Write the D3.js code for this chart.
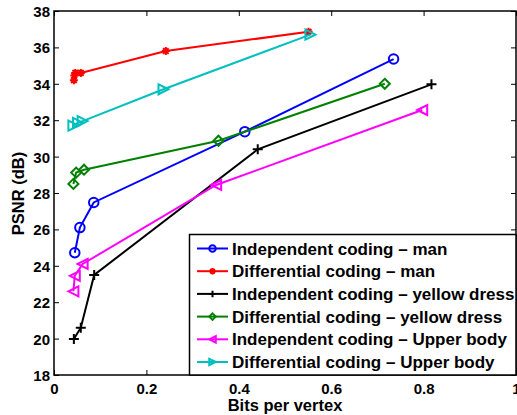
<!DOCTYPE html>
<html><head><meta charset="utf-8">
<script src="https://cdn.jsdelivr.net/npm/d3@7"></script>
<style>body{margin:0;background:#fff}svg{display:block}text{font-family:"Liberation Sans",Arial,sans-serif;font-weight:bold}</style>
</head><body><svg id="c" width="517" height="415"></svg>
<script>
const seriesNames = ["Independent coding \u2013 man","Differential coding \u2013 man","Independent coding \u2013 yellow dress","Differential coding \u2013 yellow dress","Independent coding \u2013 Upper body","Differential coding \u2013 Upper body"];
const seriesColors = ["#0000ff","#ff0000","#000000","#008000","#ff00ff","#00bfbf"];
const seriesMarkers = ["circle","asterisk","plus","diamond","triLeft","triRight"];
const indepManX = [0.045,0.056,0.086,0.413,0.735];
const indepManY = [24.72,26.1,27.48,31.37,35.36];
const diffManX = [0.043,0.044,0.046,0.058,0.242,0.551];
const diffManY = [34.2,34.45,34.6,34.6,35.8,36.86];
const indepYellowX = [0.043,0.058,0.087,0.441,0.817];
const indepYellowY = [19.98,20.6,23.5,30.4,33.97];
const diffYellowX = [0.042,0.048,0.065,0.356,0.716];
const diffYellowY = [28.5,29.12,29.28,30.87,34.0];
const indepUpperX = [0.042,0.045,0.062,0.351,0.797];
const indepUpperY = [22.6,23.45,24.1,28.44,32.56];
const diffUpperX = [0.042,0.052,0.062,0.237,0.555];
const diffUpperY = [31.7,31.85,31.95,33.7,36.7];
const xTicks = [0,0.2,0.4,0.6,0.8,1];
const yTicks = [18,20,22,24,26,28,30,32,34,36,38];
const xLabel = "Bits per vertex", yLabel = "PSNR (dB)";

const seriesX = [indepManX,diffManX,indepYellowX,diffYellowX,indepUpperX,diffUpperX];
const seriesY = [indepManY,diffManY,indepYellowY,diffYellowY,indepUpperY,diffUpperY];

const svg = d3.select("#c");
const L=54,R=516,T=11,B=375;
const x = d3.scaleLinear().domain([0,1]).range([L,R]);
const y = d3.scaleLinear().domain([18,38]).range([B,T]);

function markerPath(type, s){
  const h=s/2;
  switch(type){
    case "circle": return d3.symbol(d3.symbolCircle, Math.PI*h*h)();
    case "plus": return `M${-h},0L${h},0M0,${-h}L0,${h}`;
    case "asterisk": {const d=h*0.7;return `M${-h},0L${h},0M0,${-h}L0,${h}M${-d},${-d}L${d},${d}M${-d},${d}L${d},${-d}`;}
    case "diamond": return `M0,${-h}L${h},0L0,${h}L${-h},0Z`;
    case "triLeft": return `M${-h},0L${h},${-h}L${h},${h}Z`;
    case "triRight": return `M${h},0L${-h},${-h}L${-h},${h}Z`;
  }
}
const sizes = {circle:9.5,plus:10,asterisk:8,diamond:10,triLeft:10,triRight:10};

// axes
const gx = svg.append("g").attr("transform",`translate(0,${B})`).call(d3.axisBottom(x).tickValues(xTicks).tickFormat(d3.format("")).tickSize(-5).tickPadding(8.5));
const gxt = svg.append("g").attr("transform",`translate(0,${T})`).call(d3.axisTop(x).tickValues(xTicks).tickFormat("").tickSize(-5));
const gy = svg.append("g").attr("transform",`translate(${L},0)`).call(d3.axisLeft(y).tickValues(yTicks).tickSize(-5).tickPadding(4));
const gyr = svg.append("g").attr("transform",`translate(${R},0)`).call(d3.axisRight(y).tickValues(yTicks).tickFormat("").tickSize(-5));
[gx,gxt,gy,gyr].forEach(g=>{g.select(".domain").remove();g.selectAll("line").attr("stroke","#000").attr("stroke-width",1);g.selectAll("text").attr("font-size",15).attr("fill","#000").attr("font-family","Liberation Sans, Arial, sans-serif").attr("font-weight","bold");});
gx.selectAll("text").attr("dy","0.71em");
gy.selectAll("text").attr("dy","0.36em");

const line = d3.line().x(d=>x(d[0])).y(d=>y(d[1]));
seriesNames.forEach((n,i)=>{
  const pts = seriesX[i].map((v,j)=>[v,seriesY[i][j]]);
  const g = svg.append("g");
  g.append("path").attr("d",line(pts)).attr("fill","none").attr("stroke",seriesColors[i]).attr("stroke-width",2);
  g.selectAll("path.m").data(pts).join("path").attr("class","m")
   .attr("transform",d=>`translate(${x(d[0])},${y(d[1])})`)
   .attr("d",markerPath(seriesMarkers[i],sizes[seriesMarkers[i]]))
   .attr("fill","none").attr("stroke",seriesColors[i]).attr("stroke-width",2);
});

// frame
svg.append("rect").attr("x",L).attr("y",T).attr("width",R-L).attr("height",B-T).attr("fill","none").attr("stroke","#000").attr("stroke-width",1.5);

// legend
const lg = svg.append("g");
lg.append("rect").attr("x",189.5).attr("y",234.5).attr("width",R-189.5).attr("height",B-234.5).attr("fill","#fff").attr("stroke","#000").attr("stroke-width",1.5);
seriesNames.forEach((n,i)=>{
  const cy = 248.5 + i*22.7;
  lg.append("line").attr("x1",197).attr("x2",228).attr("y1",cy).attr("y2",cy).attr("stroke",seriesColors[i]).attr("stroke-width",2);
  lg.append("path").attr("transform",`translate(212.5,${cy})`).attr("d",markerPath(seriesMarkers[i],6.5)).attr("fill","none").attr("stroke",seriesColors[i]).attr("stroke-width",2);
  lg.append("text").attr("x",232).attr("y",cy+6).attr("font-size",17).attr("fill","#000").text(n);
});

svg.append("text").attr("x",(L+R)/2).attr("y",411).attr("text-anchor","middle").attr("font-size",16.5).text(xLabel);
svg.append("text").attr("transform",`translate(24,193.5) rotate(-90)`).attr("text-anchor","middle").attr("font-size",16.5).text(yLabel);
</script></body></html>
